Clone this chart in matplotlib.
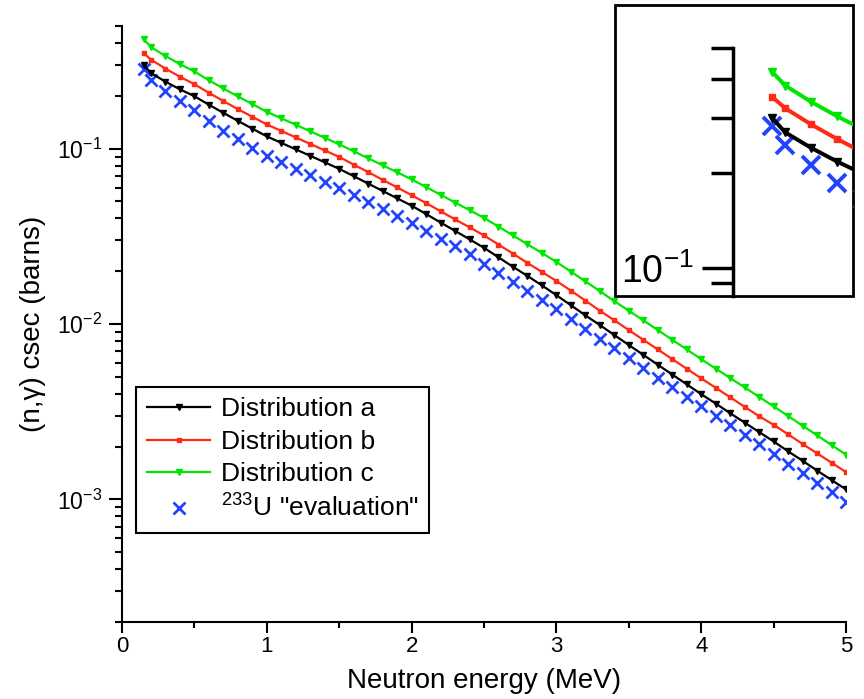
import matplotlib
matplotlib.use("Agg")
import matplotlib.pyplot as plt
from matplotlib.patches import Rectangle
from matplotlib.ticker import LogLocator, MultipleLocator, NullFormatter, FuncFormatter
import math

plt.rcParams['font.family'] = ['Liberation Sans', 'DejaVu Sans']
plt.rcParams['mathtext.fontset'] = 'custom'
plt.rcParams['mathtext.rm'] = 'Liberation Sans'
plt.rcParams['mathtext.it'] = 'Liberation Sans:italic'
plt.rcParams['mathtext.bf'] = 'Liberation Sans:bold'

# neutron energy (MeV)
energy = [0.15, 0.2, 0.3, 0.4, 0.5, 0.6, 0.7, 0.8, 0.9, 1.0,
          1.1, 1.2, 1.3, 1.4, 1.5, 1.6, 1.7, 1.8, 1.9, 2.0,
          2.1, 2.2, 2.3, 2.4, 2.5, 2.6, 2.7, 2.8, 2.9, 3.0,
          3.1, 3.2, 3.3, 3.4, 3.5, 3.6, 3.7, 3.8, 3.9, 4.0,
          4.1, 4.2, 4.3, 4.4, 4.5, 4.6, 4.7, 4.8, 4.9, 5.0]

# (n,gamma) cross sections (barns)
dist_a = [0.300, 0.270, 0.241, 0.218, 0.199, 0.178, 0.160, 0.144, 0.130, 0.1175,
          0.1079, 0.0991, 0.0910, 0.0836, 0.0767, 0.0697, 0.0632, 0.0574, 0.0521, 0.0473,
          0.0424, 0.0379, 0.0340, 0.0304, 0.0272, 0.0240, 0.0212, 0.0188, 0.0166, 0.0146,
          0.0128, 0.0112, 0.00986, 0.00865, 0.00759, 0.00667, 0.00586, 0.00515, 0.00453, 0.00398,
          0.00352, 0.00310, 0.00274, 0.00242, 0.00214, 0.00188, 0.00166, 0.00146, 0.00129, 0.00114]

dist_b = [0.350, 0.322, 0.286, 0.257, 0.233, 0.208, 0.187, 0.168, 0.152, 0.1374,
          0.1262, 0.1159, 0.1064, 0.0977, 0.0897, 0.0811, 0.0735, 0.0664, 0.0601, 0.0543,
          0.0489, 0.0440, 0.0395, 0.0356, 0.0320, 0.0284, 0.0252, 0.0223, 0.0198, 0.0176,
          0.0155, 0.0136, 0.0119, 0.0105, 0.00923, 0.00813, 0.00716, 0.00631, 0.00556, 0.00490,
          0.00433, 0.00382, 0.00337, 0.00298, 0.00266, 0.00235, 0.00207, 0.00183, 0.00162, 0.00143]

dist_c = [0.420, 0.3802, 0.3373, 0.3034, 0.2754, 0.2455, 0.2203, 0.1986, 0.1795, 0.1622,
          0.1489, 0.1368, 0.1256, 0.1153, 0.1059, 0.0966, 0.0881, 0.0804, 0.0733, 0.0668,
          0.0604, 0.0546, 0.0493, 0.0446, 0.0403, 0.0359, 0.0320, 0.0285, 0.0254, 0.0226,
          0.0199, 0.0175, 0.0154, 0.0135, 0.0119, 0.0105, 0.00923, 0.00813, 0.00716, 0.00631,
          0.00557, 0.00492, 0.00435, 0.00384, 0.00339, 0.00299, 0.00263, 0.00232, 0.00204, 0.00180]

u233_eval = [0.283, 0.2455, 0.213, 0.187, 0.166, 0.1445, 0.1268, 0.1130, 0.1009, 0.0912,
             0.0838, 0.0769, 0.0706, 0.0649, 0.0596, 0.0543, 0.0495, 0.0452, 0.0412, 0.0376,
             0.0340, 0.0307, 0.0277, 0.0251, 0.0221, 0.0196, 0.0174, 0.0155, 0.0137, 0.0122,
             0.0107, 0.00940, 0.00826, 0.00726, 0.00638, 0.00562, 0.00495, 0.00437, 0.00385, 0.00339,
             0.00299, 0.00264, 0.00233, 0.00206, 0.00182, 0.00160, 0.00141, 0.00124, 0.00110, 0.000966]

labels = ['Distribution a', 'Distribution b', 'Distribution c', r'$^{233}$U "evaluation"']
colors = ['black', '#ff2a14', '#00e600', '#2244ff']


def pow10_label(v, pos):
    # 10^-1 style labels
    e = int(round(math.log10(v)))
    return r'$\mathregular{10^{%d}}$' % e


def draw_curves(ax, lw_scale, mk_scale):
    # blue crosses first so the lines sit on top
    ax.plot(energy, u233_eval, linestyle='none', marker='x', color=colors[3],
            markersize=9 * mk_scale, markeredgewidth=2.0 * mk_scale, label=labels[3], zorder=2)
    ax.plot(energy, dist_a, color=colors[0], lw=1.6 * lw_scale, marker='v',
            markersize=4 * mk_scale, label=labels[0], zorder=3)
    ax.plot(energy, dist_b, color=colors[1], lw=1.6 * lw_scale, marker='s',
            markersize=3.5 * mk_scale, label=labels[1], zorder=3)
    ax.plot(energy, dist_c, color=colors[2], lw=1.6 * lw_scale, marker='v',
            markersize=4 * mk_scale, label=labels[2], zorder=3)


fig = plt.figure(figsize=(8.64, 6.99), dpi=100)
ax = fig.add_axes([0.1412, 0.1102, 0.838, 0.8525])

draw_curves(ax, 1.0, 1.0)

ax.set_yscale('log')
ax.set_xlim(0, 5)
ax.set_ylim(2e-4, 0.5)
ax.xaxis.set_major_locator(MultipleLocator(1))
ax.xaxis.set_minor_locator(MultipleLocator(0.5))
ax.yaxis.set_major_locator(LogLocator(base=10, numticks=10))
ax.yaxis.set_major_formatter(FuncFormatter(pow10_label))
ax.yaxis.set_minor_locator(LogLocator(base=10, subs=range(2, 10), numticks=20))
ax.yaxis.set_minor_formatter(NullFormatter())

for side in ['top', 'right']:
    ax.spines[side].set_visible(False)
for side in ['left', 'bottom']:
    ax.spines[side].set_linewidth(1.5)

ax.tick_params(axis='x', which='major', direction='out', length=8, width=1.5,
               labelsize=16, pad=2)
ax.tick_params(axis='x', which='minor', direction='out', length=4, width=1.5)
ax.tick_params(axis='y', which='major', direction='out', length=9.5, width=1.5,
               labelsize=16.5, pad=5)
ax.tick_params(axis='y', which='minor', direction='out', length=5, width=1.5)

ax.set_xlabel('Neutron energy (MeV)', fontsize=20, labelpad=8)
ax.set_ylabel('(n,γ) csec (barns)', fontsize=20, labelpad=8)

# legend: reorder so the crosses come last
handles, names = ax.get_legend_handles_labels()
order = [1, 2, 3, 0]
leg = ax.legend([handles[i] for i in order], [names[i] for i in order],
                loc='lower left', bbox_to_anchor=(0.02, 0.15), fontsize=19,
                frameon=True, fancybox=False, edgecolor='black', framealpha=1,
                handlelength=2.4, handletextpad=0.4, labelspacing=0.32,
                borderpad=0.4, borderaxespad=0)
leg.get_frame().set_linewidth(1.5)

# magnified view of the upper-left corner
fig.add_artist(Rectangle((0.7118, 0.5765), 0.2755, 0.4163, transform=fig.transFigure,
                         fill=True, facecolor='white', edgecolor='black', lw=2, zorder=5))
ins = fig.add_axes([0.8484, 0.5765, 0.1389, 0.3548], zorder=6)
ins.patch.set_alpha(0)
draw_curves(ins, 1.8, 1.4)
ins.set_yscale('log')
ins.set_xlim(0, 0.46)
ins.set_ylim(0.0817, 0.5)
for side in ['top', 'right', 'bottom']:
    ins.spines[side].set_visible(False)
ins.spines['left'].set_linewidth(2.5)
ins.set_xticks([])
ins.yaxis.set_major_locator(LogLocator(base=10, numticks=10))
ins.yaxis.set_major_formatter(FuncFormatter(pow10_label))
ins.yaxis.set_minor_locator(LogLocator(base=10, subs=range(2, 10), numticks=20))
ins.yaxis.set_minor_formatter(NullFormatter())
ins.tick_params(axis='y', which='major', length=22, width=2.5, labelsize=27, pad=6)
ins.tick_params(axis='y', which='minor', length=16, width=2.5)

fig.savefig('out.png', dpi=100)
